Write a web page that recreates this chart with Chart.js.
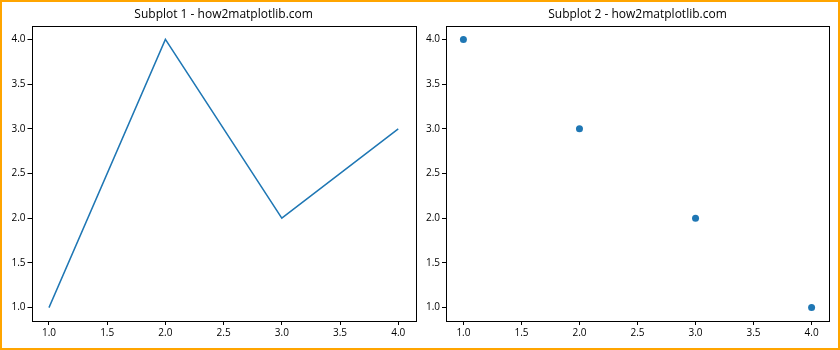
<!DOCTYPE html>
<html>
<head>
<meta charset="utf-8">
<script src="https://cdn.jsdelivr.net/npm/chart.js@4"></script>
<style>
  body { margin: 0; background: #fff; }
  #wrap { position: relative; width: 840px; height: 350px; overflow: hidden; background: #fff; }
  .pane { position: absolute; top: 0; width: 420px; height: 350px; }
  #frame { position: absolute; left: 0; top: 0; width: 840px; height: 350px; box-sizing: border-box; border: 2px solid #ffa500; pointer-events: none; }
</style>
</head>
<body>
<div id="wrap">
  <div class="pane" style="left:0"><canvas id="chart1"></canvas></div>
  <div class="pane" style="left:420px"><canvas id="chart2"></canvas></div>
  <div id="frame"></div>
</div>
<script>
// data
const xValues = [1, 2, 3, 4];
const lineValues = [1, 4, 2, 3];
const scatterValues = [4, 3, 2, 1];
const tickValues = [1.0, 1.5, 2.0, 2.5, 3.0, 3.5, 4.0];
const titles = ["Subplot 1 - how2matplotlib.com", "Subplot 2 - how2matplotlib.com"];

const BLUE = "#1f77b4";
const FONT = "'Open Sans', 'Noto Sans', sans-serif";

// box around the plot area, like matplotlib spines
const frameBox = {
  id: "frameBox",
  afterDraw(chart) {
    const a = chart.chartArea;
    const ctx = chart.ctx;
    ctx.save();
    ctx.strokeStyle = "#000";
    ctx.lineWidth = 1;
    ctx.strokeRect(Math.round(a.left) + 0.5, Math.round(a.top) + 0.5,
      Math.round(a.right - a.left), Math.round(a.bottom - a.top));
    ctx.restore();
  }
};

function axis(pos, size) {
  return {
    type: "linear",
    position: pos,
    min: 0.85,
    max: 4.15,
    afterBuildTicks: s => { s.ticks = tickValues.map(v => ({ value: v })); },
    afterFit: s => {
      if (pos === "left") s.width = size; else s.height = size;
    },
    grid: { drawOnChartArea: false, drawTicks: true, tickLength: 4, color: "#000" },
    border: { display: false },
    ticks: {
      color: "#000",
      padding: 2,
      font: { family: FONT, size: 10 },
      callback: v => Number(v).toFixed(1)
    }
  };
}

function makeChart(id, title, dataset, yWidth, padRight) {
  return new Chart(document.getElementById(id), {
    type: "scatter",
    data: { datasets: [dataset] },
    options: {
      responsive: true,
      maintainAspectRatio: false,
      animation: false,
      layout: { padding: { left: 0, right: padRight, top: 0, bottom: 0 } },
      scales: { x: axis("bottom", 29), y: axis("left", yWidth) },
      plugins: {
        legend: { display: false },
        tooltip: { enabled: false },
        title: {
          display: true,
          text: title,
          fullSize: false,
          color: "#000",
          font: { family: FONT, size: 12, weight: "normal", lineHeight: 1.2 },
          padding: { top: 7, bottom: 4.6 }
        }
      }
    },
    plugins: [frameBox]
  });
}

makeChart("chart1", titles[0], {
  data: xValues.map((x, i) => ({ x, y: lineValues[i] })),
  showLine: true,
  borderColor: BLUE,
  borderWidth: 1.5,
  pointRadius: 0,
  fill: false
}, 31.5, 4.3);

makeChart("chart2", titles[1], {
  data: xValues.map((x, i) => ({ x, y: scatterValues[i] })),
  showLine: false,
  backgroundColor: BLUE,
  borderColor: BLUE,
  pointRadius: 3.5,
  pointBorderWidth: 0
}, 26, 11);
</script>
</body>
</html>
